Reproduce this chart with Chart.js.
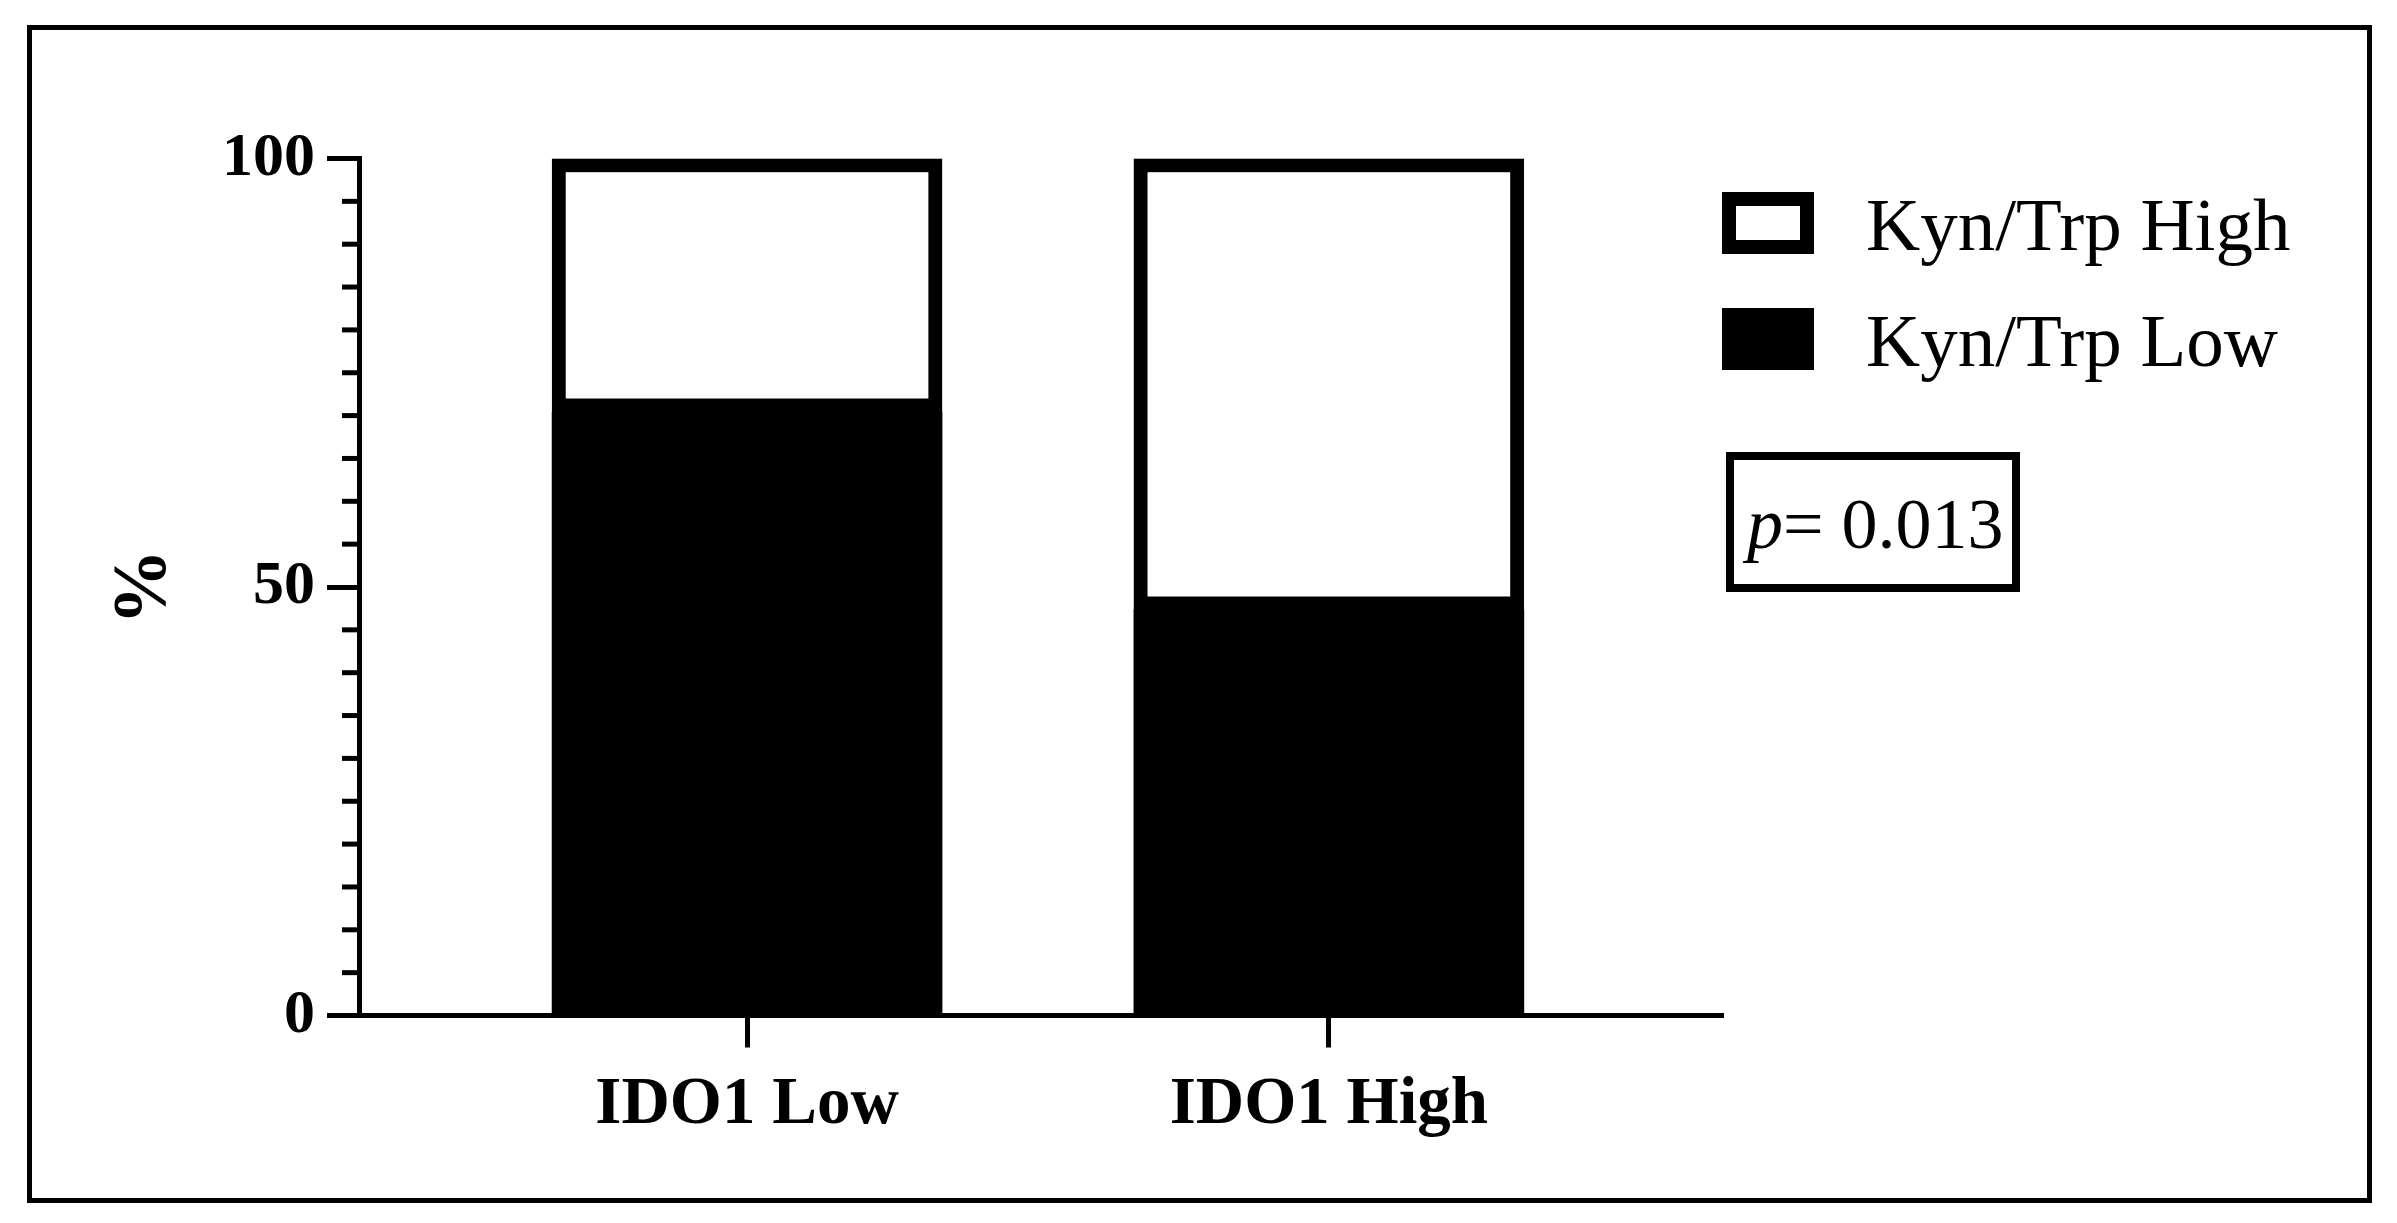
<!DOCTYPE html>
<html><head><meta charset="utf-8">
<script src="https://cdn.jsdelivr.net/npm/chart.js@4.4.1/dist/chart.umd.min.js"></script>
<style>
html,body{margin:0;padding:0;background:#fff;}
#wrap{position:relative;width:2397px;height:1223px;background:#fff;}
#frame{position:absolute;left:27px;top:25px;width:2345px;height:1178px;box-sizing:border-box;border:5px solid #000;pointer-events:none;}
canvas{position:absolute;left:0;top:0;}
</style></head><body>
<div id="wrap"><canvas id="c" width="2397" height="1223"></canvas><div id="frame"></div></div>
<script>
// ---- data ----
const categories = ['IDO1 Low', 'IDO1 High'];
const kynTrpLow = [70.4, 47.3];
const kynTrpHigh = [29.6, 52.7];
const seriesLabels = ['Kyn/Trp Low', 'Kyn/Trp High'];
const yTickValues = [0, 50, 100];
const yMinorTickValues = [5, 10, 15, 20, 25, 30, 35, 40, 45, 55, 60, 65, 70, 75, 80, 85, 90, 95];
const yAxisTitle = '%';
const pSymbol = 'p';
const pValueText = '= 0.013';

const FONT = '"Liberation Serif", "Times New Roman", serif';

const extras = {
  id: 'extras',
  afterDraw(chart) {
    const ctx = chart.ctx, ys = chart.scales.y, area = chart.chartArea;
    ctx.save();
    // minor ticks on y axis
    ctx.strokeStyle = '#000';
    ctx.lineWidth = 5;
    yMinorTickValues.forEach(v => {
      const py = ys.getPixelForValue(v);
      ctx.beginPath();
      ctx.moveTo(area.left - 17, py);
      ctx.lineTo(area.left, py);
      ctx.stroke();
    });
    // legend (top series first)
    const ds = chart.data.datasets.slice().reverse();
    const boxX = 1722, boxW = 92, boxH = 62, tops = [192, 308];
    ds.forEach((d, i) => {
      const t = tops[i];
      const bw = d.borderWidth || 0;
      ctx.fillStyle = bw ? d.borderColor : d.backgroundColor;
      ctx.fillRect(boxX, t, boxW, boxH);
      if (bw) {
        ctx.fillStyle = d.backgroundColor;
        ctx.fillRect(boxX + bw, t + bw, boxW - 2 * bw, boxH - 2 * bw);
      }
      ctx.fillStyle = '#000';
      ctx.font = '75px ' + FONT;
      ctx.textBaseline = 'alphabetic';
      ctx.textAlign = 'left';
      ctx.fillText(d.label, 1866, t + 58);
    });
    // p-value box
    ctx.lineWidth = 8;
    ctx.strokeStyle = '#000';
    ctx.strokeRect(1730, 456, 286, 132);
    ctx.fillStyle = '#000';
    ctx.font = 'italic 72px ' + FONT;
    ctx.fillText(pSymbol, 1747, 548);
    const pw = ctx.measureText(pSymbol).width;
    ctx.font = '72px ' + FONT;
    ctx.fillText(pValueText, 1747 + pw, 548);
    ctx.restore();
  }
};

new Chart(document.getElementById('c'), {
  type: 'bar',
  data: {
    datasets: [
      {
        label: seriesLabels[0],
        data: categories.map((c, i) => ({x: i, y: kynTrpLow[i]})),
        backgroundColor: '#000',
        borderColor: '#000',
        borderWidth: 0,
        stack: 's',
        barThickness: 390
      },
      {
        label: seriesLabels[1],
        data: categories.map((c, i) => ({x: i, y: kynTrpHigh[i]})),
        backgroundColor: '#fff',
        borderColor: '#000',
        borderWidth: 14,
        borderSkipped: false,
        stack: 's',
        barThickness: 390
      }
    ]
  },
  options: {
    responsive: false,
    animation: false,
    layout: { padding: { top: 158.5, right: 676, bottom: 0, left: 0 } },
    plugins: { legend: { display: false }, tooltip: { enabled: false } },
    scales: {
      x: {
        type: 'linear',
        offset: false,
        bounds: 'data',
        min: -0.667,
        max: 1.674,
        afterBuildTicks: s => { s.ticks = categories.map((c, i) => ({value: i})); },
        afterFit: s => { s.height = 207.5; },
        ticks: {
          callback: v => categories[v],
          color: '#000',
          padding: 18,
          font: { family: FONT, size: 67, weight: 'bold' },
          maxRotation: 0,
          autoSkip: false
        },
        grid: { offset: false, drawOnChartArea: false, drawTicks: true, tickLength: 32, tickWidth: 5, tickColor: '#000', lineWidth: 5, color: '#000' },
        border: { display: true, width: 5, color: '#000' }
      },
      y: {
        type: 'linear',
        stacked: true,
        min: 0,
        max: 100,
        afterBuildTicks: s => { s.ticks = yTickValues.map(v => ({value: v})); },
        afterFit: s => { s.width = 359; },
        ticks: {
          color: '#000',
          padding: 12,
          font: { family: FONT, size: 62, weight: 'bold' }
        },
        grid: { drawOnChartArea: false, drawTicks: true, tickLength: 32, tickWidth: 5, tickColor: '#000', lineWidth: 5, color: '#000' },
        border: { display: true, width: 5, color: '#000' },
        title: {
          display: true,
          text: yAxisTitle,
          color: '#000',
          font: { family: FONT, size: 76, weight: 'bold' },
          padding: { top: 100, bottom: 0 }
        }
      }
    }
  },
  plugins: [extras]
});
</script>
</body></html>
